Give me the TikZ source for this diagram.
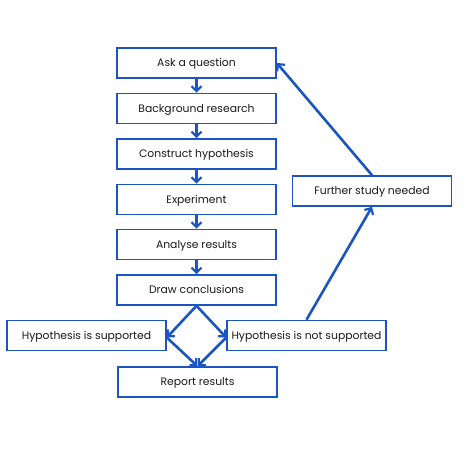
\documentclass[tikz,border=0pt]{standalone}
\usepackage{fontspec}
\setmainfont{Poppins}
\usetikzlibrary{arrows.meta}
\definecolor{flowblue}{HTML}{1A55C2}

\begin{document}
\begin{tikzpicture}[x=1pt, y=-1pt, >={Straight Barb[length=5pt, width=10pt, line width=2.2pt]},
    every node/.style={font=\fontsize{10.8}{12}\selectfont, text=black!90},
    stepbox/.style={draw=flowblue, line width=1.6pt, minimum width=159pt, minimum height=30pt, inner sep=0pt, text height=7.5pt, text depth=0.5pt},
    flow/.style={->, draw=flowblue, line width=2.6pt}]
  \useasboundingbox (0,0) rectangle (474,474);
  \node[stepbox] (ask) at (196.5,63) {Ask a question};
  \node[stepbox] (research) at (196.5,108.5) {Background research};
  \node[stepbox] (hypothesis) at (196.5,154) {Construct hypothesis};
  \node[stepbox] (experiment) at (196.5,199.5) {Experiment};
  \node[stepbox] (analyse) at (196.5,244.5) {Analyse results};
  \node[stepbox] (conclude) at (196.5,290) {Draw conclusions};
  \node[stepbox] (supported) at (86.5,335.5) {Hypothesis is supported};
  \node[stepbox] (notsupported) at (306.5,335.5) {Hypothesis is not supported};
  \node[stepbox] (report) at (197.5,382) {Report results};
  \node[stepbox] (further) at (372,191) {Further study needed};
  % main chain
  \draw[flow] (ask) -- (research);
  \draw[flow] (research) -- (hypothesis);
  \draw[flow] (hypothesis) -- (experiment);
  \draw[flow] (experiment) -- (analyse);
  \draw[flow] (analyse) -- (conclude);
  % branches
  \draw[flow] (conclude.south) -- ([yshift=-2pt]supported.east);
  \draw[flow] (conclude.south) -- ([yshift=-2pt]notsupported.west);
  \draw[flow] ([yshift=-2pt]supported.east) -- (report.north);
  \draw[flow] ([yshift=-2pt]notsupported.west) -- (report.north);
  % loop back
  \draw[flow] (notsupported.north) -- (further.south);
  \draw[flow] (further.north) -- (ask.east);
\end{tikzpicture}
\end{document}
